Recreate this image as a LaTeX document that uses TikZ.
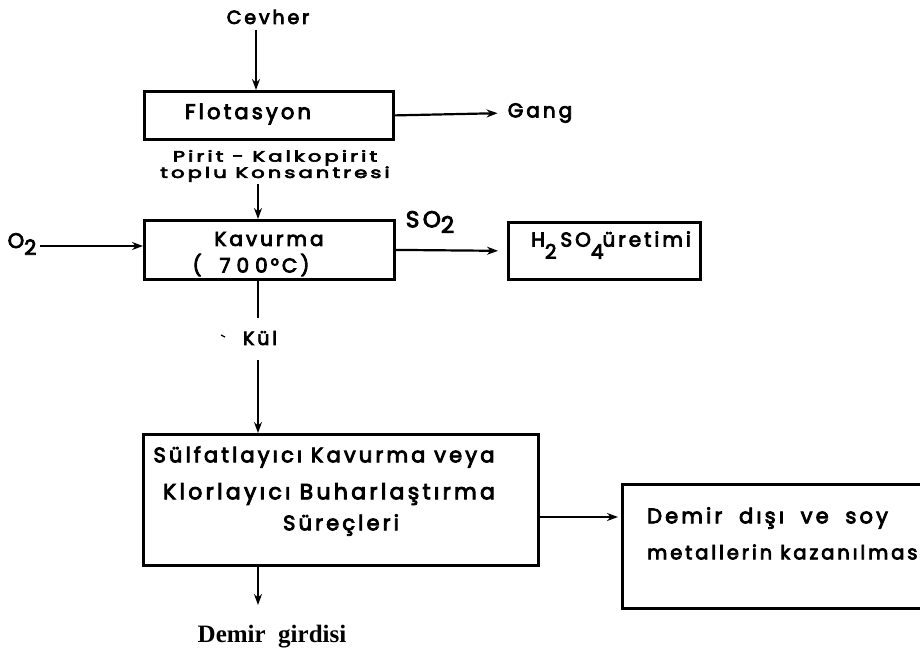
\documentclass[tikz,border=0pt]{standalone}
\usepackage{fontspec}
\usetikzlibrary{arrows.meta}
\newfontfamily\lett[LetterSpace=15,FakeBold=4]{Poppins}
\newfontfamily\serifb{Liberation Serif}
\newcommand{\fs}[1]{\fontsize{#1bp}{#1bp}\selectfont}
\tikzset{
  box/.style={draw, line width=2.8bp, inner sep=0pt},
  flow/.style={line width=2.2bp, -{Stealth[length=11bp,width=8bp]}},
  plain/.style={line width=2.2bp},
  lbl/.style={inner sep=0pt, font=\lett\fs{21}},
  small/.style={inner sep=0pt, align=center, font=\lett\fs{15}},
}
\begin{document}
\begin{tikzpicture}[x=1bp,y=-1bp]
\useasboundingbox (0,0) rectangle (920,653);
\fill[white] (0,0) rectangle (920,653);
% boxes
\node[box, minimum width=249bp, minimum height=48bp, anchor=north west] (flot) at (143,90) {};
\node[box, minimum width=250bp, minimum height=59bp, anchor=north west] (kav) at (143,219) {};
\node[box, minimum width=192bp, minimum height=57bp, anchor=north west] (h2) at (507,221) {};
\node[box, minimum width=395bp, minimum height=131bp, anchor=north west] (sulf) at (142,433) {};
\node[box, minimum width=320bp, minimum height=124bp, anchor=north west] (dem) at (621,483) {};
% texts
\node[lbl, font=\lett\fs{19}] (cevher) at (268,17) {Cevher};
\node[lbl] (flott) at (248,114) {Flotasyon};
\node[lbl, font=\lett\fs{20}] (gang) at (540,113) {Gang};
\node[small] (pirit) at (275,166) {\scalebox{1.4}[1]{Pirit - Kalkopirit}\\\scalebox{1.4}[1]{toplu Konsantresi}};
\node[lbl, font=\lett\fs{20}] (kavt) at (269,239) {Kavurma};
\node[lbl, font=\lett\fs{20}] (kavt2) at (251,265) {(\kern18bp 7\kern6bp 0\kern6bp 0\kern3bp°C\kern3bp)};
\node[lbl] (o2) at (22,244) {O\raisebox{-0.6ex}{2}};
\node[lbl, font=\lett\fs{23}] (so2) at (430,222) {SO\raisebox{-0.45ex}{2}};
\node[lbl, font=\lett\fs{20}] (h2t) at (611,245) {H\raisebox{-1.1ex}{2}\kern4bp SO\raisebox{-1.1ex}{4}\kern-1bp üretimi};
\node[lbl, font=\lett\fs{19}] (kul) at (260,338) {Kül};
\node[lbl] (s1) at (324,457) {Sülfatlayıcı Kavurma veya};
\node[lbl, font=\lett\fs{22}] (s2) at (329,494) {Klorlayıcı Buharlaştırma};
\node[lbl] (s3) at (341,525) {Süreçleri};
\node[lbl, anchor=west] (d1) at (647,518) {Demir\hspace{8bp} dışı\hspace{8bp} ve\hspace{8bp} soy};
\node[lbl, anchor=west, font=\lett\fs{19.5}] (d2) at (647,552) {metallerin kazanılmas};
\node[inner sep=0pt, font=\serifb\bfseries\fs{25}] (girdi) at (272,637) {Demir\ \ girdisi};
% coordinates
\coordinate (c1) at (256,30);
\coordinate (p1) at (258,184);
\coordinate (k1) at (258,318);
\coordinate (k2) at (258,360);
\coordinate (s0) at (258,564);
\coordinate (s9) at (258,605);
\coordinate (e1) at (537,517);
\coordinate (e0) at (40,246);
% connectors
\draw[flow] (c1) -- (c1 |- flot.north);
\draw[flow, shorten >=10bp] (flot.east) -- (gang.west);
\draw[flow] (p1) -- (p1 |- kav.north);
\draw[flow] (e0) -- (e0 -| kav.west);
\draw[flow, shorten >=9bp] (kav.east) -- (h2.west);
\draw[plain] (k1 |- kav.south) -- (k1);
\draw[line width=1.2bp] (221,335) -- (225,337);
\draw[flow] (k2) -- (k2 |- sulf.north);
\draw[flow, shorten >=3bp] (e1) -- (e1 -| dem.west);
\draw[flow] (s0) -- (s9);
\end{tikzpicture}
\end{document}
